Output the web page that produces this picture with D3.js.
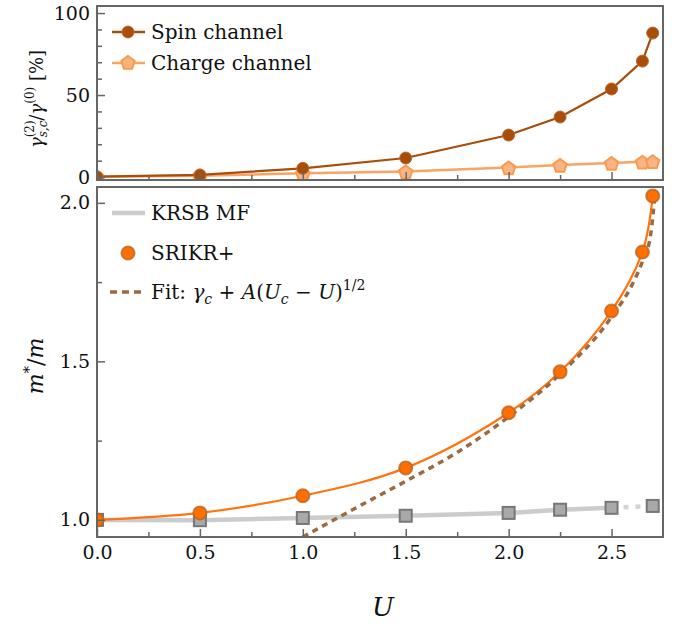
<!DOCTYPE html>
<html>
<head>
<meta charset="utf-8">
<script src="https://cdn.jsdelivr.net/npm/d3@7"></script>
<style>
  body { margin: 0; background: #fff; }
  text { font-family: "DejaVu Serif", serif; fill: #111; }
</style>
</head>
<body>
<div id="chart"></div>
<script>
// U values shared by both panels
const uValues = [0, 0.5, 1.0, 1.5, 2.0, 2.25, 2.5, 2.65, 2.7];

// top panel: gamma^(2)/gamma^(0) in %
const spinChannel = [0.2, 1.3, 5.3, 11.6, 25.6, 36.6, 53.7, 70.7, 87.8];
const chargeChannel = [0.2, 0.8, 2.3, 3.4, 5.8, 7.3, 8.5, 9.3, 9.6];

// bottom panel: m*/m
const krsbU = [0, 0.5, 1.0, 1.5, 2.0, 2.25, 2.5, 2.7];
const krsbMF = [1.0, 0.999, 1.006, 1.013, 1.022, 1.032, 1.038, 1.044];
const srikr = [1.0, 1.022, 1.076, 1.164, 1.338, 1.467, 1.659, 1.845, 2.022];
const fitU = [1.0, 1.25, 1.5, 1.75, 2.0, 2.25, 2.5, 2.6, 2.65, 2.69, 2.71];
const fitValues = [0.946, 1.035, 1.122, 1.213, 1.325, 1.46, 1.64, 1.742, 1.815, 1.9, 2.02];

// ticks
const uMajorTicks = [0, 0.5, 1.0, 1.5, 2.0, 2.5];
const uMinorTicks = [0.25, 0.75, 1.25, 1.75, 2.25];
const topMajorTicks = [0, 50, 100];
const topMinorTicks = [10, 20, 30, 40, 60, 70, 80, 90];
const botMajorTicks = [1.0, 1.5, 2.0];
const botMinorTicks = [1.25, 1.75];

const width = 684, height = 625;
const frameColor = "#666";

const svg = d3.select("#chart")
    .append("svg")
    .attr("width", width)
    .attr("height", height);

const x = d3.scaleLinear().domain([0, 2.75]).range([97, 663]);
const yTop = d3.scaleLinear().domain([-1.8, 104.3]).range([180, 6]);
const yBot = d3.scaleLinear().domain([0.946, 2.05]).range([537, 187]);

// clip paths for both panels
const defs = svg.append("defs");
defs.append("clipPath").attr("id", "clipTop").append("rect")
    .attr("x", x(0)).attr("y", yTop(104.3))
    .attr("width", x(2.75) - x(0)).attr("height", yTop(-1.8) - yTop(104.3));
defs.append("clipPath").attr("id", "clipBot").append("rect")
    .attr("x", x(0)).attr("y", yBot(2.05))
    .attr("width", x(2.75) - x(0)).attr("height", yBot(0.946) - yBot(2.05));

function drawTicks(yScale, yMajor, yMinor, yFormat, showXLabels) {
    const y0 = yScale.range()[0];
    // x ticks (pointing inward)
    const gx = svg.append("g")
        .attr("transform", `translate(0,${y0})`)
        .call(d3.axisBottom(x).tickValues(uMajorTicks).tickSize(-8).tickPadding(9)
            .tickFormat(showXLabels ? d3.format(".1f") : ""));
    gx.select(".domain").remove();
    const gxm = svg.append("g")
        .attr("transform", `translate(0,${y0})`)
        .call(d3.axisBottom(x).tickValues(uMinorTicks).tickSize(-5).tickFormat(""));
    gxm.select(".domain").remove();

    const gy = svg.append("g")
        .attr("transform", `translate(${x(0)},0)`)
        .call(d3.axisLeft(yScale).tickValues(yMajor).tickSize(-8).tickPadding(7).tickFormat(yFormat));
    gy.select(".domain").remove();
    const gym = svg.append("g")
        .attr("transform", `translate(${x(0)},0)`)
        .call(d3.axisLeft(yScale).tickValues(yMinor).tickSize(-5).tickFormat(""));
    gym.select(".domain").remove();

    svg.selectAll(".tick line").attr("stroke", frameColor).attr("stroke-width", 1.5);
    svg.selectAll(".tick text")
        .attr("font-family", "DejaVu Serif")
        .attr("font-size", 19)
        .attr("fill", "#111");
}

// ---------- top panel ----------
const lineTop = d3.line()
    .x((d, i) => x(uValues[i]))
    .y(d => yTop(d));

const topG = svg.append("g").attr("clip-path", "url(#clipTop)");

const chargeColor = "#fba363";
const spinColor = "#a84d0a";

function pentagonPath(cx, cy, r) {
    const pts = d3.range(5).map(k => {
        const a = -Math.PI / 2 + k * 2 * Math.PI / 5;
        return [cx + r * Math.cos(a), cy + r * Math.sin(a) + 1];
    });
    return "M" + pts.join("L") + "Z";
}

topG.append("path")
    .datum(chargeChannel)
    .attr("d", lineTop)
    .attr("fill", "none")
    .attr("stroke", chargeColor)
    .attr("stroke-width", 2.5);

topG.selectAll(".charge")
    .data(chargeChannel)
    .enter()
    .append("path")
    .attr("class", "charge")
    .attr("d", (d, i) => pentagonPath(x(uValues[i]), yTop(d), 7))
    .attr("fill", "#f8b486")
    .attr("stroke", "#fc9a4c")
    .attr("stroke-width", 2);

topG.append("path")
    .datum(spinChannel)
    .attr("d", lineTop)
    .attr("fill", "none")
    .attr("stroke", spinColor)
    .attr("stroke-width", 2.2);

topG.selectAll(".spin")
    .data(spinChannel)
    .enter()
    .append("circle")
    .attr("class", "spin")
    .attr("cx", (d, i) => x(uValues[i]))
    .attr("cy", d => yTop(d))
    .attr("r", 6)
    .attr("fill", spinColor)
    .attr("stroke", "#b86a35")
    .attr("stroke-width", 1);

svg.append("rect")
    .attr("x", x(0)).attr("y", yTop(104.3))
    .attr("width", x(2.75) - x(0)).attr("height", yTop(-1.8) - yTop(104.3))
    .attr("fill", "none").attr("stroke", frameColor).attr("stroke-width", 2);

drawTicks(yTop, topMajorTicks, topMinorTicks, d3.format("d"), false);

// top legend
const legTop = svg.append("g");
legTop.append("line").attr("x1", 112).attr("x2", 145).attr("y1", 32).attr("y2", 32)
    .attr("stroke", spinColor).attr("stroke-width", 2.5);
legTop.append("circle").attr("cx", 128).attr("cy", 32).attr("r", 6)
    .attr("fill", spinColor).attr("stroke", "#b86a35");
legTop.append("text").attr("x", 151).attr("y", 39).attr("font-size", 20).text("Spin channel");
legTop.append("line").attr("x1", 112).attr("x2", 145).attr("y1", 63).attr("y2", 63)
    .attr("stroke", chargeColor).attr("stroke-width", 2.5);
legTop.append("path").attr("d", pentagonPath(128, 62, 7))
    .attr("fill", "#f8b486").attr("stroke", "#fc9a4c").attr("stroke-width", 2);
legTop.append("text").attr("x", 151).attr("y", 70).attr("font-size", 20).text("Charge channel");

// top y label
const topLabel = svg.append("text")
    .attr("transform", "translate(43,99) rotate(-90)")
    .attr("text-anchor", "middle")
    .attr("font-size", 18);
topLabel.append("tspan").attr("font-style", "italic").text("γ");
topLabel.append("tspan").attr("font-size", 12).attr("dy", -9).text("(2)");
topLabel.append("tspan").attr("font-size", 12).attr("font-style", "italic").attr("dx", -17).attr("dy", 13).text("s,c");
topLabel.append("tspan").attr("dy", -4).text("/");
topLabel.append("tspan").attr("font-style", "italic").text("γ");
topLabel.append("tspan").attr("font-size", 12).attr("dy", -9).text("(0)");
topLabel.append("tspan").attr("dy", 9).text(" [%]");

// ---------- bottom panel ----------
const botG = svg.append("g").attr("clip-path", "url(#clipBot)");

const lineKrsb = d3.line()
    .x((d, i) => x(krsbU[i]))
    .y(d => yBot(d));

// solid part up to U=2.5, dashed continuation to 2.7
botG.append("path")
    .datum(krsbMF.slice(0, 7))
    .attr("d", lineKrsb)
    .attr("fill", "none")
    .attr("stroke", "#cccccc")
    .attr("stroke-width", 4.5);
botG.append("path")
    .attr("d", d3.line()([[x(krsbU[6]), yBot(krsbMF[6])], [x(krsbU[7]), yBot(krsbMF[7])]]))
    .attr("fill", "none")
    .attr("stroke", "#d4d4d4")
    .attr("stroke-width", 4.5)
    .attr("stroke-dasharray", "5,7");

botG.selectAll(".krsb")
    .data(krsbMF)
    .enter()
    .append("rect")
    .attr("class", "krsb")
    .attr("x", (d, i) => x(krsbU[i]) - 6)
    .attr("y", d => yBot(d) - 6)
    .attr("width", 12)
    .attr("height", 12)
    .attr("fill", "#a9a9a9")
    .attr("stroke", "#777")
    .attr("stroke-width", 2);

const lineSrikr = d3.line()
    .x((d, i) => x(uValues[i]))
    .y(d => yBot(d))
    .curve(d3.curveCatmullRom.alpha(0.5));

botG.append("path")
    .datum(srikr)
    .attr("d", lineSrikr)
    .attr("fill", "none")
    .attr("stroke", "#ff7410")
    .attr("stroke-width", 2.2);

const fitColor = "#9b6a42";
botG.append("path")
    .datum(fitValues)
    .attr("d", d3.line().x((d, i) => x(fitU[i])).y(d => yBot(d)).curve(d3.curveMonotoneX))
    .attr("fill", "none")
    .attr("stroke", fitColor)
    .attr("stroke-width", 3.5)
    .attr("stroke-dasharray", "6,5");

botG.selectAll(".srikr")
    .data(srikr)
    .enter()
    .append("circle")
    .attr("class", "srikr")
    .attr("cx", (d, i) => x(uValues[i]))
    .attr("cy", d => yBot(d))
    .attr("r", 6.5)
    .attr("fill", "#ff7000")
    .attr("stroke", "#c0641f")
    .attr("stroke-opacity", 0.8)
    .attr("stroke-width", 2);

svg.append("rect")
    .attr("x", x(0)).attr("y", yBot(2.05))
    .attr("width", x(2.75) - x(0)).attr("height", yBot(0.946) - yBot(2.05))
    .attr("fill", "none").attr("stroke", frameColor).attr("stroke-width", 2);

drawTicks(yBot, botMajorTicks, botMinorTicks, d3.format(".1f"), true);

// bottom legend
const legBot = svg.append("g");
legBot.append("line").attr("x1", 112).attr("x2", 145).attr("y1", 213).attr("y2", 213)
    .attr("stroke", "#cccccc").attr("stroke-width", 4.5);
legBot.append("text").attr("x", 151).attr("y", 220).attr("font-size", 20).text("KRSB MF");
legBot.append("circle").attr("cx", 128).attr("cy", 253).attr("r", 6.5)
    .attr("fill", "#ff7000").attr("stroke", "#c0641f").attr("stroke-opacity", 0.8).attr("stroke-width", 2);
legBot.append("text").attr("x", 151).attr("y", 260).attr("font-size", 20).text("SRIKR+");
legBot.append("line").attr("x1", 110).attr("x2", 145).attr("y1", 292).attr("y2", 292)
    .attr("stroke", fitColor).attr("stroke-width", 3.5).attr("stroke-dasharray", "7,5");
const fitText = legBot.append("text").attr("x", 151).attr("y", 299).attr("font-size", 20);
fitText.append("tspan").text("Fit: ");
fitText.append("tspan").attr("font-style", "italic").text("γ");
fitText.append("tspan").attr("font-style", "italic").attr("font-size", 14).attr("dy", 5).text("c");
fitText.append("tspan").attr("dy", -5).text(" + ");
fitText.append("tspan").attr("font-style", "italic").text("A");
fitText.append("tspan").text("(");
fitText.append("tspan").attr("font-style", "italic").text("U");
fitText.append("tspan").attr("font-style", "italic").attr("font-size", 14).attr("dy", 5).text("c");
fitText.append("tspan").attr("dy", -5).text(" − ");
fitText.append("tspan").attr("font-style", "italic").text("U");
fitText.append("tspan").text(")");
fitText.append("tspan").attr("font-size", 14).attr("dy", -9).text("1/2");

// bottom y label
const botLabel = svg.append("text")
    .attr("transform", "translate(43,366) rotate(-90)")
    .attr("text-anchor", "middle")
    .attr("font-size", 22);
botLabel.append("tspan").attr("font-style", "italic").text("m");
botLabel.append("tspan").attr("font-size", 15).attr("dy", -9).text("*");
botLabel.append("tspan").attr("dy", 9).text("/");
botLabel.append("tspan").attr("font-style", "italic").text("m");

// x label
svg.append("text")
    .attr("x", 383)
    .attr("y", 616)
    .attr("text-anchor", "middle")
    .attr("font-size", 26)
    .attr("font-style", "italic")
    .text("U");
</script>
</body>
</html>
